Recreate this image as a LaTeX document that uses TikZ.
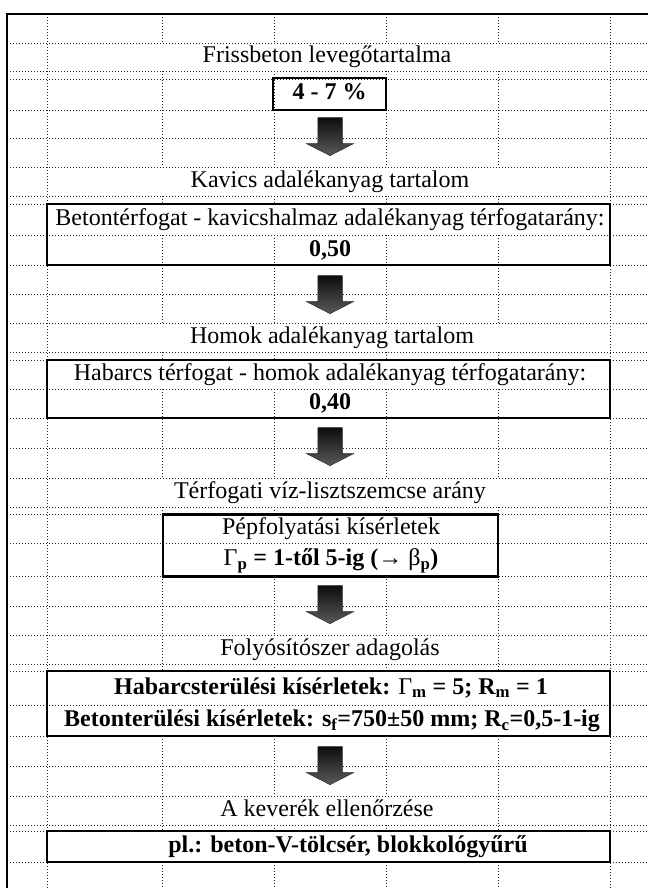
\documentclass[tikz,border=0pt]{standalone}
\usepackage{fontspec}
\setmainfont{Liberation Serif}
\usetikzlibrary{shapes.arrows}

\begin{document}
\begin{tikzpicture}[x=1pt, y=-1pt]
    \tikzstyle{every node}=[inner sep=0pt, text height=17pt, text depth=5pt, font=\fontsize{24}{29}\selectfont]
    \tikzstyle{gridline}=[black!85, line width=0.9pt, dash pattern=on 1pt off 2pt]
    \tikzstyle{box}=[draw, line width=2.6pt]
    \tikzstyle{downarrow}=[single arrow, shape border rotate=270, text height=0pt, text depth=0pt, inner sep=12pt, minimum height=38pt, minimum width=47pt, single arrow head extend=11.5pt, single arrow tip angle=126, top color=black!95, bottom color=black!65, draw=black!85, line width=0.5pt]
    \useasboundingbox (0,0) rectangle (648,888);
    \foreach \y in {43,71,79,110,138,167,196,204,235,265,294,323,352,360,389,418,448,478,507,514,543,576,606,635,664,671,705,736,766,796,825,831,862} \draw[gridline] (7,\y) -- (648,\y);
    \foreach \x in {47,610} \draw[gridline] (\x,14) -- (\x,888);
    \foreach \x in {162,498} \foreach \a/\b in {14/43,71/167,196/204,235/323,352/360,389/478,507/671,736/831,862/888} \draw[gridline] (\x,\a) -- (\x,\b);
    \foreach \x in {274,386} \foreach \a/\b in {14/43,71/167,196/204,235/323,352/360,389/478,507/514,576/635,664/671,736/796,825/831,862/888} \draw[gridline] (\x,\a) -- (\x,\b);
    \draw[line width=2.5pt] (7,888) -- (7,14) -- (648,14);
    \node (t1) at (327,57) {Frissbeton levegőtartalma};
    \node[box, minimum width=113pt, minimum height=32pt] (b1) at (329.5,94) {\textbf{4 - 7 \%}};
    \node[downarrow] (a1) at (330,133.5) {};
    \node (t2) at (330,181.5) {Kavics adalékanyag tartalom};
    \node[box, minimum width=563pt, minimum height=61pt] (b2) at (328.5,234.5) {};
    \node (b2a) at (330,219.5) {Betontérfogat - kavicshalmaz adalékanyag térfogatarány:};
    \node (b2b) at (330,250) {\textbf{0,50}};
    \node[downarrow] (a2) at (330,291.5) {};
    \node (t3) at (332,337.5) {Homok adalékanyag tartalom};
    \node[box, minimum width=563pt, minimum height=58pt] (b3) at (328.5,389) {};
    \node (b3a) at (330,374.5) {Habarcs térfogat - homok adalékanyag térfogatarány:};
    \node (b3b) at (330,403.5) {\textbf{0,40}};
    \node[downarrow] (a3) at (330,443.5) {};
    \node (t4) at (330,492.5) {Térfogati víz-lisztszemcse arány};
    \node[box, minimum width=335pt, minimum height=62pt] (b4) at (330.5,545.5) {};
    \node (b4a) at (331,528.5) {Pépfolyatási kísérletek};
    \node (b4b) at (331,559.5) {Γ\textsubscript{\textbf{p}}\textbf{ = 1-től 5-ig (→ }β\textsubscript{\textbf{p}}\textbf{)}};
    \node[downarrow] (a4) at (330,601.5) {};
    \node (t5) at (330,649.5) {Folyósítószer adagolás};
    \node[box, minimum width=563pt, minimum height=65pt] (b5) at (328.5,703.5) {};
    \node (b5a) at (331,688) {\textbf{Habarcsterülési kísérletek: }Γ\textsubscript{\textbf{m}}\textbf{ = 5; R\textsubscript{m} = 1}};
    \node (b5b) at (332,720.5) {\textbf{Betonterülési kísérletek: s\textsubscript{f}=750±50 mm; R\textsubscript{c}=0,5-1-ig}};
    \node[downarrow] (a5) at (330,762.5) {};
    \node (t6) at (327,810.5) {A keverék ellenőrzése};
    \node[box, minimum width=563pt, minimum height=31pt] (b6) at (328.5,846.5) {};
    \node (b6a) at (348,846.5) {\textbf{pl.: beton-V-tölcsér, blokkológyűrű}};
\end{tikzpicture}
\end{document}
